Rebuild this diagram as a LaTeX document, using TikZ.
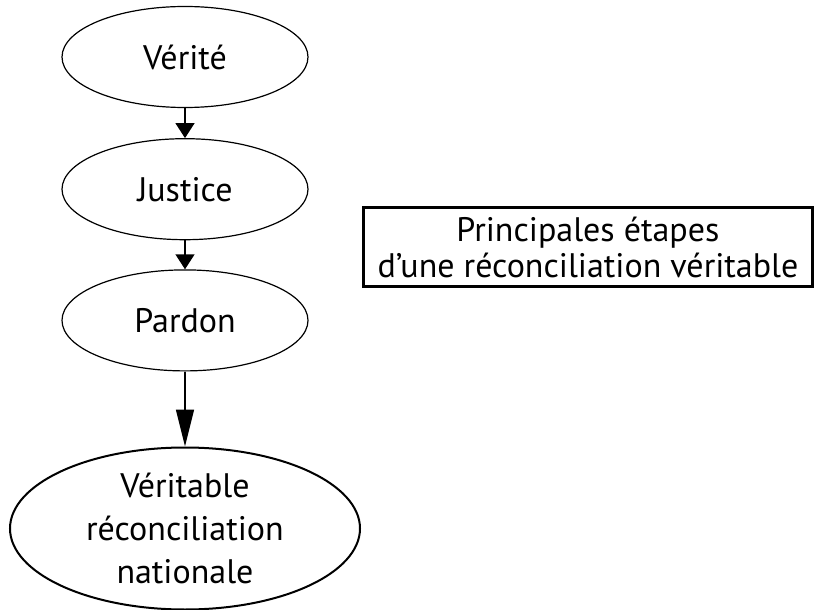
\documentclass[tikz,border=0pt]{standalone}
\usepackage{fontspec}
\setmainfont{PT Sans}
\usepackage{tikz}
\usetikzlibrary{shapes,arrows,arrows.meta,positioning}

\tikzset{
    etape/.style={draw, ellipse, line width=1.2pt, minimum width=246pt, minimum height=101pt, inner sep=0pt, font=\fontsize{34}{36}\selectfont},
    fleche/.style={line width=1.4pt, -{Triangle[width=19pt,length=15pt]}}
}

\begin{document}
\begin{tikzpicture}[x=1pt,y=-1pt]
    \useasboundingbox (0,0) rectangle (815,610);

    \node[etape] (verite) at (185,57) {Vérité};
    \node[etape, below=30pt of verite] (justice) {Justice};
    \node[etape, below=29pt of justice] (pardon) {Pardon};
    \node[etape, below=75pt of pardon, line width=2pt, minimum width=350pt, minimum height=162pt, align=center, font=\fontsize{34}{43}\selectfont] (reconciliation) {Véritable\\réconciliation\\nationale};

    \draw[fleche] (verite) -- (justice);
    \draw[fleche] (justice) -- (pardon);
    \draw[fleche, -{Triangle[width=18pt,length=37pt]}] (pardon) -- (reconciliation);

    \node[draw, line width=3pt, minimum width=449pt, minimum height=79pt, align=center, font=\fontsize{34}{36}\selectfont] (etapes) at (588,247) {Principales étapes\\d’une réconciliation véritable};
\end{tikzpicture}
\end{document}
